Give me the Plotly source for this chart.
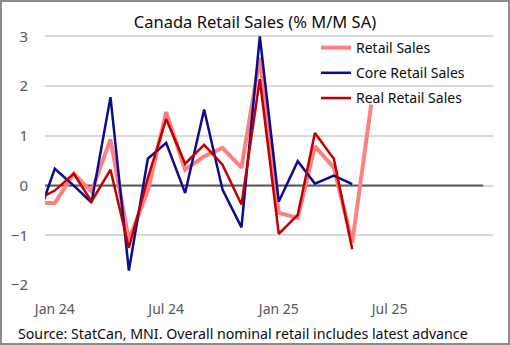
import plotly.graph_objects as go

# ---- data ----
months = ["2023-12-01", "2024-01-01", "2024-02-01", "2024-03-01", "2024-04-01", "2024-05-01",
          "2024-06-01", "2024-07-01", "2024-08-01", "2024-09-01", "2024-10-01", "2024-11-01",
          "2024-12-01", "2025-01-01", "2025-02-01", "2025-03-01", "2025-04-01", "2025-05-01",
          "2025-06-01"]
retail_sales = [-0.35, -0.35, 0.24, -0.12, 0.93, -1.10, -0.10, 1.48, 0.32, 0.59, 0.76, 0.36,
                2.57, -0.55, -0.65, 0.79, 0.36, -1.15, 1.63]
core_retail = [-0.75, 0.34, 0.00, -0.34, 1.78, -1.71, 0.54, 0.86, -0.15, 1.53, -0.08, -0.84,
               3.00, -0.32, 0.49, 0.04, 0.20, 0.03]
real_retail = [-0.30, -0.10, 0.24, -0.32, 0.32, -1.25, 0.15, 1.34, 0.44, 0.82, 0.42, -0.38,
               2.14, -0.97, -0.59, 1.06, 0.54, -1.28]
zero_line_x = ["2023-12-01", "2025-12-01"]
zero_line_y = [0, 0]
tick_dates = ["2024-01-01", "2024-07-01", "2025-01-01", "2025-07-01"]
tick_labels = ["Jan 24", "Jul 24", "Jan 25", "Jul 25"]
y_ticks = [-2, -1, 0, 1, 2, 3]

FONT = "Noto Sans"
W, H = 510, 345
ML, MR, MT, MB = 45, 17, 35, 60
PW, PH = W - ML - MR, H - MT - MB

fig = go.Figure()
fig.add_trace(go.Scatter(x=zero_line_x, y=zero_line_y, mode="lines",
                         line=dict(color="#595959", width=2), showlegend=False, hoverinfo="skip"))
fig.add_trace(go.Scatter(x=months[:len(retail_sales)], y=retail_sales, mode="lines",
                         name="Retail Sales", legendgroup="a",
                         line=dict(color="#ff8080", width=4)))
fig.add_trace(go.Scatter(x=months[:len(core_retail)], y=core_retail, mode="lines",
                         name="Core Retail Sales", legendgroup="b",
                         line=dict(color="#0c0c8c", width=2.5)))
fig.add_trace(go.Scatter(x=months[:len(real_retail)], y=real_retail, mode="lines",
                         name="Real Retail Sales", legendgroup="c",
                         line=dict(color="#c00000", width=2.5)))

# outer border
fig.add_shape(type="rect", xref="paper", yref="paper",
              x0=(-ML + 1) / PW, x1=(W - ML - 1) / PW,
              y0=(-MB + 1) / PH, y1=(H - MB - 1) / PH,
              line=dict(color="#8c8c8c", width=2), layer="above")

fig.update_layout(
    width=W, height=H,
    margin=dict(l=ML, r=MR, t=MT, b=MB),
    paper_bgcolor="white", plot_bgcolor="white",
    font=dict(family=FONT, color="#595959", size=13),
    title=dict(text="Canada Retail Sales (% M/M SA)", x=0.5, xanchor="center",
               y=1 - 22 / H, yanchor="middle",
               font=dict(family=FONT, size=16.5, color="#0d0d0d")),
    xaxis=dict(type="date", range=["2023-12-16", "2025-12-17"],
               tickvals=tick_dates, ticktext=tick_labels,
               showgrid=False, zeroline=False, showline=False, ticks="",
               ticklabelstandoff=14,
               tickfont=dict(family=FONT, size=14, color="#595959")),
    yaxis=dict(range=[-2, 3.03], tickvals=y_ticks,
               showgrid=True, gridcolor="#d9d9d9", gridwidth=1.5,
               zeroline=False, showline=False, ticks="",
               ticklabelstandoff=16,
               tickfont=dict(family=FONT, size=15, color="#595959")),
    legend=dict(x=(316 - ML) / PW, y=1 - (32 - MT) / PH, xanchor="left", yanchor="top",
                bgcolor="rgba(0,0,0,0)", tracegroupgap=4,
                font=dict(family=FONT, size=14, color="#0d0d0d")),
    annotations=[dict(text="Source: StatCan, MNI. Overall nominal retail includes latest advance",
                      xref="paper", yref="paper", x=(16 - ML) / PW, y=-(333 - (H - MB)) / PH,
                      xanchor="left", yanchor="middle", showarrow=False,
                      font=dict(family=FONT, size=14.2, color="#0d0d0d"))],
)

fig.write_html("out.html")
